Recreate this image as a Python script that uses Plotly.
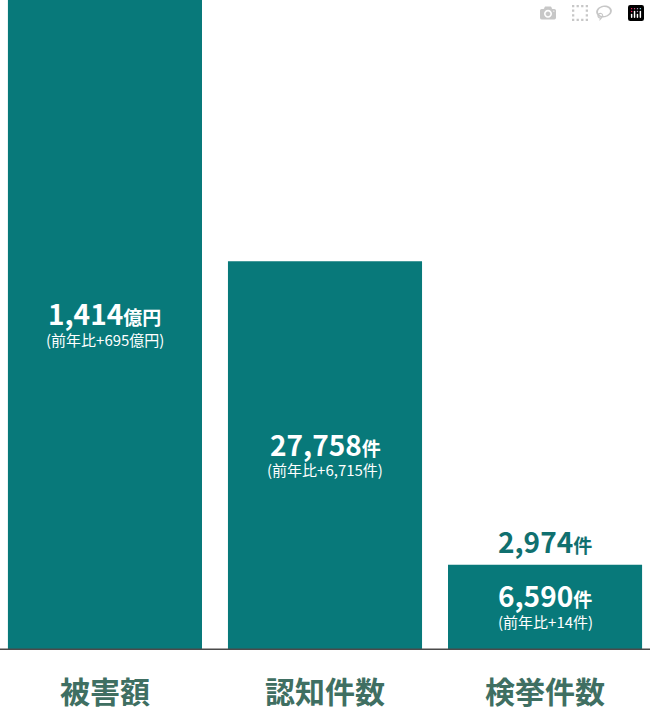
import plotly.graph_objects as go

categories = ["被害額", "認知件数", "検挙件数"]
bar_heights = [100, 59.8, 13.1]  # relative heights as drawn
main_values = ["1,414", "27,758", "6,590"]
main_units = ["億円", "件", "件"]
sub_labels = ["(前年比+695億円)", "(前年比+6,715件)", "(前年比+14件)"]
extra_value = "2,974"
extra_unit = "件"

FONT = "Noto Sans CJK JP"
x = list(range(len(categories)))

fig = go.Figure(go.Bar(
    x=x, y=bar_heights, width=0.882,
    marker=dict(color="#08797a", line=dict(width=0)),
    hoverinfo="skip",
))

for i, h in enumerate(bar_heights):
    fig.add_annotation(
        x=i, y=h / 2, yshift=12,
        text=f"<b>{main_values[i]}<span style='font-size:19px'>{main_units[i]}</span></b>",
        showarrow=False, font=dict(family=FONT, size=28, color="white"),
    )
    fig.add_annotation(
        x=i, y=h / 2, yshift=-14,
        text=sub_labels[i], showarrow=False,
        font=dict(family=FONT, size=15, color="white"),
    )
    fig.add_annotation(
        x=i, y=0, yref="y", yshift=-40,
        text=f"<b>{categories[i]}</b>", showarrow=False,
        font=dict(family=FONT, size=30, color="#3f6f62"),
    )

fig.add_annotation(
    x=2, y=bar_heights[2], yshift=24,
    text=f"<b>{extra_value}<span style='font-size:19px'>{extra_unit}</span></b>",
    showarrow=False, font=dict(family=FONT, size=28, color="#10706f"),
)

fig.add_shape(type="line", xref="paper", yref="y", x0=0, x1=1, y0=0, y1=0,
              line=dict(color="#4a4a4a", width=3))

fig.update_layout(
    width=650, height=712,
    margin=dict(l=0, r=0, t=0, b=62),
    paper_bgcolor="white", plot_bgcolor="white",
    showlegend=False,
    xaxis=dict(range=[-0.477, 2.477], visible=False, fixedrange=True),
    yaxis=dict(range=[0, 100], visible=False, fixedrange=True),
)

fig.write_html("out.html", post_script="document.body.style.margin='0';")
